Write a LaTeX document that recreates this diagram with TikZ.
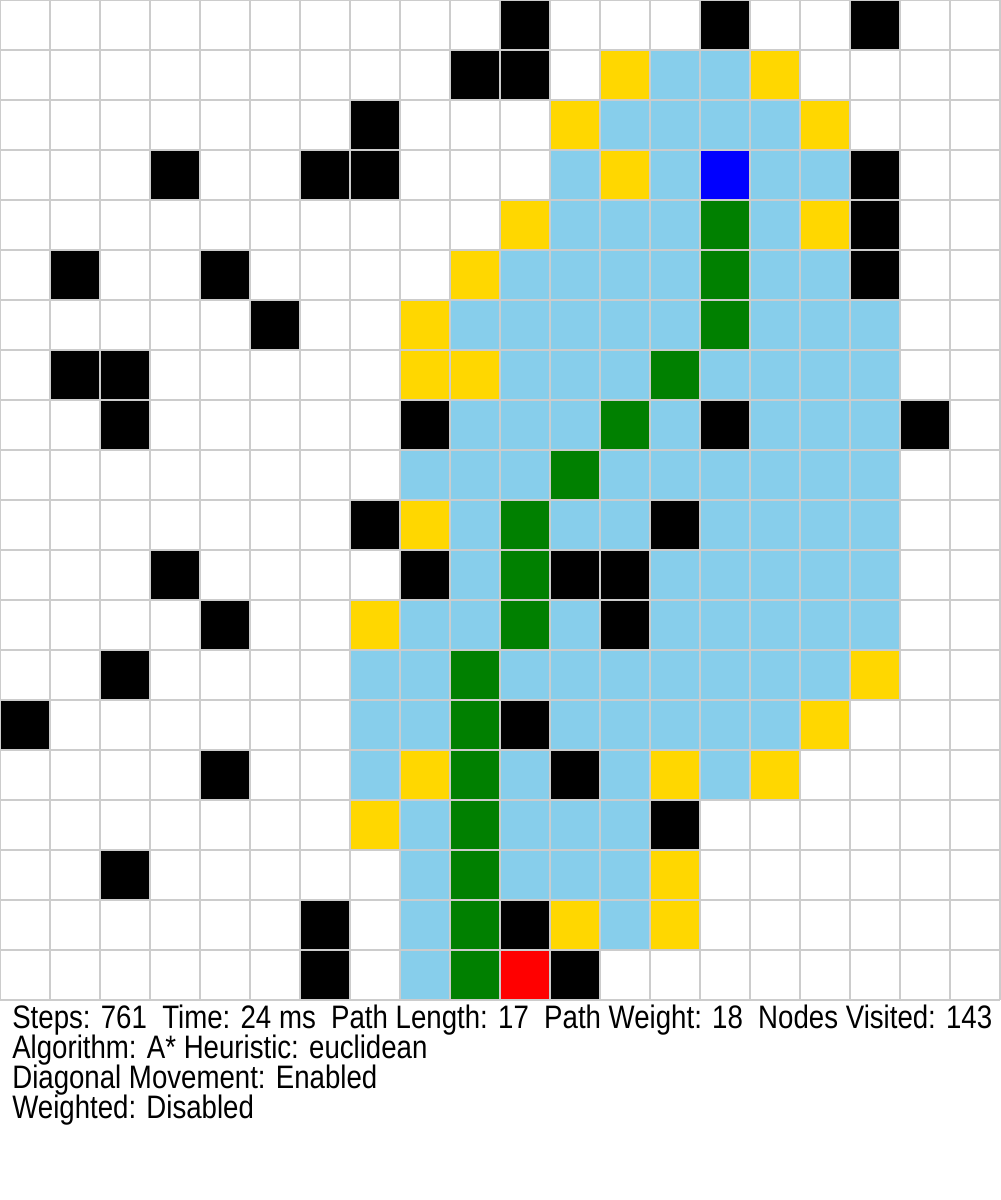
\documentclass[tikz,border=0pt]{standalone}
\usepackage{fontspec}
\setmainfont{Liberation Sans}
\usepackage{tikz}
\usetikzlibrary{positioning}
\definecolor{gridgray}{HTML}{CCCCCC}
\definecolor{visitblue}{HTML}{87CEEB}
\definecolor{opengold}{HTML}{FFD700}
\definecolor{pathgreen}{HTML}{008000}
\definecolor{startblue}{HTML}{0000FF}
\definecolor{goalred}{HTML}{FF0000}

\begin{document}
\begin{tikzpicture}[x=1cm,y=-1cm,
    infoline/.style={anchor=base west,inner sep=0pt,xscale=0.85,font=\fontsize{18.5}{22}\selectfont}]
    \useasboundingbox[fill=white] (0,0) rectangle (20,24);
    % visited cells, row by row
    \foreach \r/\a/\b in {1/13/14,2/12/15,3/11/16,4/11/15,5/10/16,6/9/17,7/10/17,8/9/17,9/8/17,10/9/17,
        11/9/17,12/8/17,13/7/16,14/7/15,15/7/14,16/8/12,17/8/12,18/8/12,19/8/8}
        \fill[visitblue] (\a,\r) rectangle (\b+1,\r+1);
    % open set
    \foreach \c/\r in {12/1,15/1,11/2,16/2,12/3,10/4,16/4,9/5,8/6,8/7,9/7,8/10,7/12,17/13,16/14,
        8/15,13/15,15/15,7/16,13/17,11/18,13/18}
        \fill[opengold] (\c,\r) rectangle ++(1,1);
    % path
    \foreach \c/\r in {14/4,14/5,14/6,13/7,12/8,11/9,10/10,10/11,10/12,9/13,9/14,9/15,9/16,9/17,9/18,9/19}
        \fill[pathgreen] (\c,\r) rectangle ++(1,1);
    % walls
    \foreach \c/\r in {10/0,14/0,17/0,9/1,10/1,7/2,3/3,6/3,7/3,17/3,17/4,1/5,4/5,17/5,5/6,1/7,2/7,
        2/8,8/8,14/8,18/8,7/10,13/10,3/11,8/11,11/11,12/11,4/12,12/12,2/13,0/14,10/14,4/15,11/15,
        13/16,2/17,6/18,10/18,6/19,11/19}
        \fill[black] (\c,\r) rectangle ++(1,1);
    \fill[startblue] (14,3) rectangle ++(1,1);
    \fill[goalred] (10,19) rectangle ++(1,1);
    \draw[gridgray,line width=0.6pt] (0,0) grid (20,20);
    % stats
    \node[infoline] (stats) at (0.24,20.56) {Steps: 761\ \ Time: 24 ms\ \ Path Length: 17\ \ Path Weight: 18\ \ Nodes Visited: 143};
    \node[infoline] (algo) at (0.24,21.16) {Algorithm: A* Heuristic: euclidean};
    \node[infoline] (diag) at (0.24,21.76) {Diagonal Movement: Enabled};
    \node[infoline] (weight) at (0.24,22.36) {Weighted: Disabled};
\end{tikzpicture}
\end{document}
